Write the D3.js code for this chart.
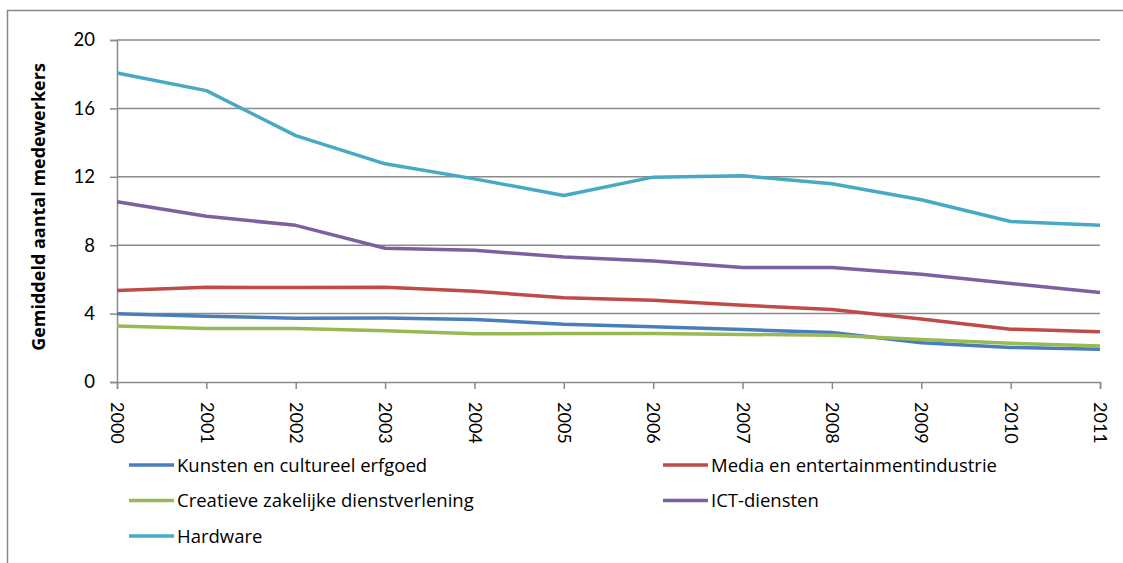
<!DOCTYPE html>
<html>
<head>
<meta charset="utf-8">
<script src="https://cdn.jsdelivr.net/npm/d3@7"></script>
<style>
  body { margin: 0; background: #fff; }
  text { font-family: Lato, "Open Sans", sans-serif; fill: #000; }
</style>
</head>
<body>
<script>
var years = [2000, 2001, 2002, 2003, 2004, 2005, 2006, 2007, 2008, 2009, 2010, 2011];

var kunsten    = [3.99, 3.85, 3.73, 3.75, 3.66, 3.38, 3.23, 3.07, 2.90, 2.30, 2.02, 1.91];
var media      = [5.35, 5.54, 5.52, 5.54, 5.31, 4.92, 4.78, 4.49, 4.24, 3.69, 3.09, 2.94];
var creatieve  = [3.27, 3.13, 3.13, 2.99, 2.82, 2.84, 2.84, 2.78, 2.74, 2.49, 2.26, 2.10];
var ict        = [10.54, 9.69, 9.16, 7.82, 7.70, 7.31, 7.08, 6.69, 6.69, 6.30, 5.76, 5.23];
var hardware   = [18.07, 17.04, 14.41, 12.76, 11.88, 10.91, 11.98, 12.06, 11.59, 10.66, 9.39, 9.16];

var seriesNames = ["Kunsten en cultureel erfgoed", "Media en entertainmentindustrie",
                   "Creatieve zakelijke dienstverlening", "ICT-diensten", "Hardware"];
var seriesColors = ["#4a7ebb", "#be4b48", "#98b954", "#7d60a0", "#46aac5"];
var yTicks = [0, 4, 8, 12, 16, 20];

var series = [kunsten, media, creatieve, ict, hardware].map(function(v, i) {
  return {name: seriesNames[i], color: seriesColors[i], values: v};
});

var W = 1123, H = 563;
var margin = {top: 40, right: 23, bottom: 181, left: 117},
    width = W - margin.left - margin.right,
    height = H - margin.top - margin.bottom;

var svg = d3.select("body").append("svg")
    .attr("width", W)
    .attr("height", H);

// outer chart border
svg.append("rect")
    .attr("x", 7.5).attr("y", 10.5)
    .attr("width", W + 10).attr("height", H + 10)
    .attr("fill", "none")
    .attr("stroke", "#878787")
    .attr("stroke-width", 1.5);

var g = svg.append("g")
    .attr("transform", "translate(" + margin.left + "," + margin.top + ")");

var x = d3.scalePoint()
    .domain(years)
    .range([0, width]);

var y = d3.scaleLinear()
    .domain([0, 20])
    .range([height, 0]);

// gridlines
g.selectAll(".grid")
    .data(yTicks.filter(function(d) { return d > 0; }))
  .enter().append("line")
    .attr("class", "grid")
    .attr("x1", 0).attr("x2", width)
    .attr("y1", function(d) { return y(d); })
    .attr("y2", function(d) { return y(d); })
    .attr("stroke", "#8a8a8a")
    .attr("stroke-width", 1.5);

var yAxis = d3.axisLeft(y).tickValues(yTicks).tickSize(7).tickPadding(15);
var xAxis = d3.axisBottom(x).tickSize(7).tickPadding(0);

var ya = g.append("g").call(yAxis);
ya.select(".domain").attr("stroke", "#8a8a8a").attr("stroke-width", 1.5);
ya.selectAll(".tick line").attr("stroke", "#8a8a8a").attr("stroke-width", 1.5);
ya.selectAll(".tick text").style("font-size", "18.5px").attr("fill", "#000");

var xa = g.append("g")
    .attr("transform", "translate(0," + height + ")")
    .call(xAxis);
xa.select(".domain").attr("stroke", "#8a8a8a").attr("stroke-width", 1.5);
xa.selectAll(".tick line").attr("stroke", "#8a8a8a").attr("stroke-width", 1.5);
xa.selectAll(".tick text")
    .style("font-size", "18px")
    .attr("fill", "#000")
    .attr("text-anchor", "start")
    .attr("dy", "0.35em")
    .attr("transform", "translate(0,20) rotate(90)")
    .attr("y", 0)
    .attr("x", 0);

// lines
var line = d3.line()
    .x(function(d, i) { return x(years[i]); })
    .y(function(d) { return y(d); });

g.selectAll(".series")
    .data(series)
  .enter().append("path")
    .attr("class", "series")
    .attr("d", function(d) { return line(d.values); })
    .attr("fill", "none")
    .attr("stroke", function(d) { return d.color; })
    .attr("stroke-width", 3.5)
    .attr("stroke-linejoin", "round");

// y label
svg.append("text")
    .attr("transform", "translate(45," + (margin.top + height / 2 - 4) + ") rotate(-90)")
    .attr("text-anchor", "middle")
    .style("font-family", "'Open Sans', sans-serif")
    .style("font-size", "18px")
    .style("font-weight", "bold")
    .text("Gemiddeld aantal medewerkers");

// legend
var legend = svg.selectAll(".legend")
    .data(series)
  .enter().append("g")
    .attr("class", "legend")
    .attr("transform", function(d, i) {
      var col = i % 2, row = Math.floor(i / 2);
      return "translate(" + (col ? 663 : 129) + "," + (465 + row * 35.5) + ")";
    });

legend.append("line")
    .attr("x1", 0).attr("x2", 45)
    .attr("stroke", function(d) { return d.color; })
    .attr("stroke-width", 3.5);

legend.append("text")
    .attr("x", 48)
    .attr("dy", "0.36em")
    .style("font-family", "'Open Sans', sans-serif")
    .style("font-size", "18.5px")
    .text(function(d) { return d.name; });
</script>
</body>
</html>
